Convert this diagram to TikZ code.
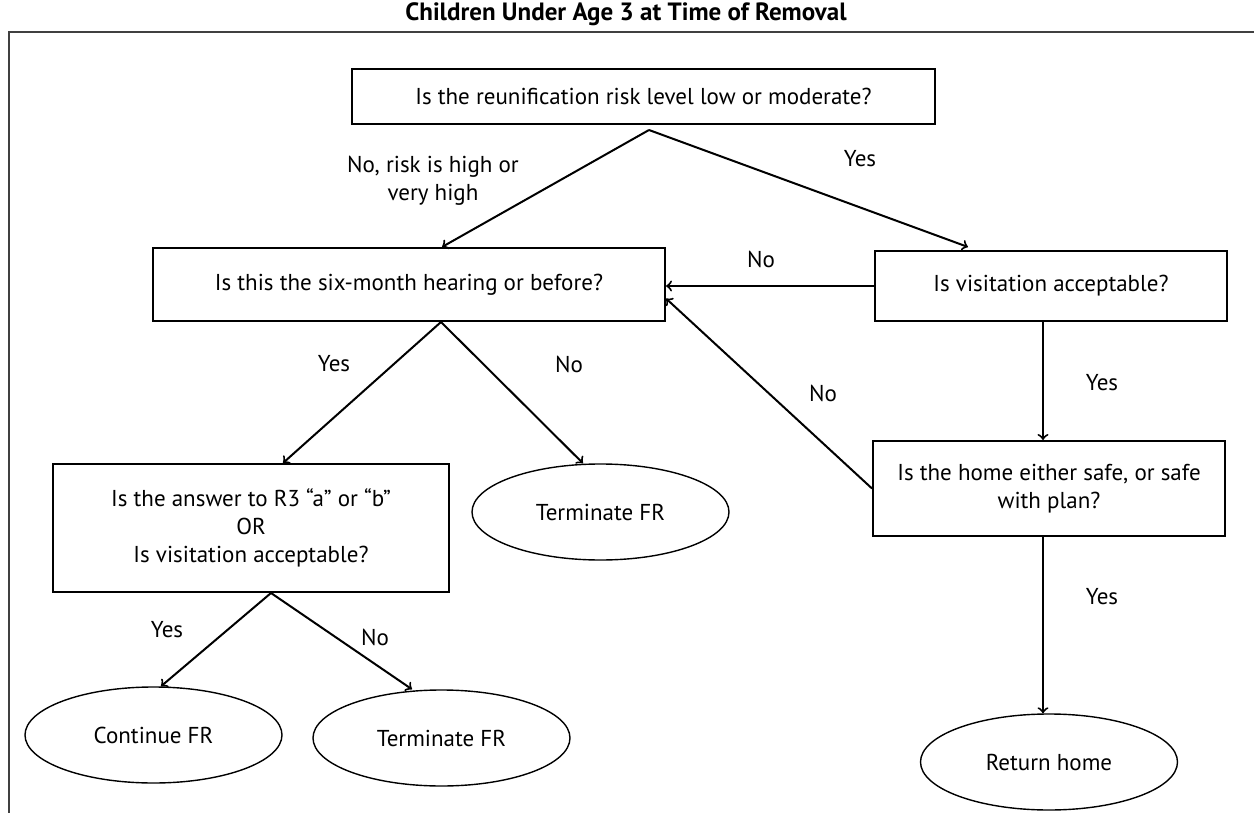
\documentclass[tikz,border=0pt]{standalone}
\usepackage{fontspec}
\setmainfont{PT Sans}
\usetikzlibrary{shapes.geometric}
\begin{document}
\begin{tikzpicture}[x=0.5pt,y=-0.5pt,
    caja/.style={draw,line width=1pt,align=center,inner sep=0pt},
    fin/.style={draw,ellipse,line width=0.7pt,inner sep=0pt,minimum width=128.5pt,minimum height=48pt},
    flecha/.style={->,line width=1pt},
    every node/.append style={font=\fontsize{11.5}{14}\selectfont}]
\useasboundingbox (0,0) rectangle (1254,813);
\node[font=\bfseries\fontsize{12.5}{14}\selectfont] (titulo) at (626,14) {Children Under Age 3 at Time of Removal};
\draw[black!75,line width=0.75pt] (9,813) -- (9,32) -- (1254,32); % marco
\node[caja,minimum width=291.5pt,minimum height=27.5pt] (riesgo) at (643.5,96.5) {Is the reunification risk level low or moderate?};
\node[caja,minimum width=256pt,minimum height=36.5pt] (seismeses) at (409,284.5) {Is this the six-month hearing or before?};
\node[caja,minimum width=176pt,minimum height=35pt] (visitas) at (1051,286) {Is visitation acceptable?};
\node[caja,minimum width=176pt,minimum height=47.5pt] (hogar) at (1049,488.5) {Is the home either safe, or safe\\with plan?};
\node[caja,minimum width=198pt,minimum height=64pt] (respuesta) at (251,528) {Is the answer to R3 “a” or “b”\\OR\\Is visitation acceptable?};
\node[fin] (terminar) at (600.5,512) {Terminate FR};
\node[fin] (continuar) at (153.5,735) {Continue FR};
\node[fin] (terminarb) at (441.5,738) {Terminate FR};
\node[fin] (regreso) at (1049,762) {Return home};
% flechas
\coordinate (bifA) at ([xshift=2.75pt,yshift=-2.5pt]riesgo.south);
\draw[flecha] (bifA) -- ([xshift=16.5pt]seismeses.north);
\draw[flecha] (bifA) -- ([xshift=-41.5pt,yshift=1.5pt]visitas.north);
\draw[flecha] (visitas.west) -- (visitas.west -| seismeses.east);
\draw[flecha] (hogar.west) -- ([yshift=-7pt]seismeses.east);
\coordinate (eje) at (1043,0);
\draw[flecha] (visitas.south -| eje) -- (hogar.north -| eje);
\draw[flecha] (hogar.south -| eje) -- (regreso.north -| eje);
\coordinate (bifB) at ([xshift=16pt]seismeses.south);
\draw[flecha] (bifB) -- ([xshift=16pt]respuesta.north);
\draw[flecha] (bifB) -- ([xshift=-8.75pt]terminar.north);
\coordinate (bifC) at ([xshift=10pt]respuesta.south);
\draw[flecha] (bifC) -- ([xshift=3.75pt]continuar.north);
\draw[flecha] (bifC) -- ([xshift=-14.75pt]terminarb.north);
% etiquetas
\node[align=center] (nriesgo) at (433,181) {No, risk is high or\\very high};
\foreach \n/\x/\y/\t in {sA/860/159/Yes, nA/761/259/No, sB/1102/383/Yes, nB/823/393/No,
    sC/334/364/Yes, nC/569/364/No, sD/1102/597/Yes, sE/167/630/Yes, nE/375/637/No}
    \node (\n) at (\x,\y) {\t};
\end{tikzpicture}
\end{document}
